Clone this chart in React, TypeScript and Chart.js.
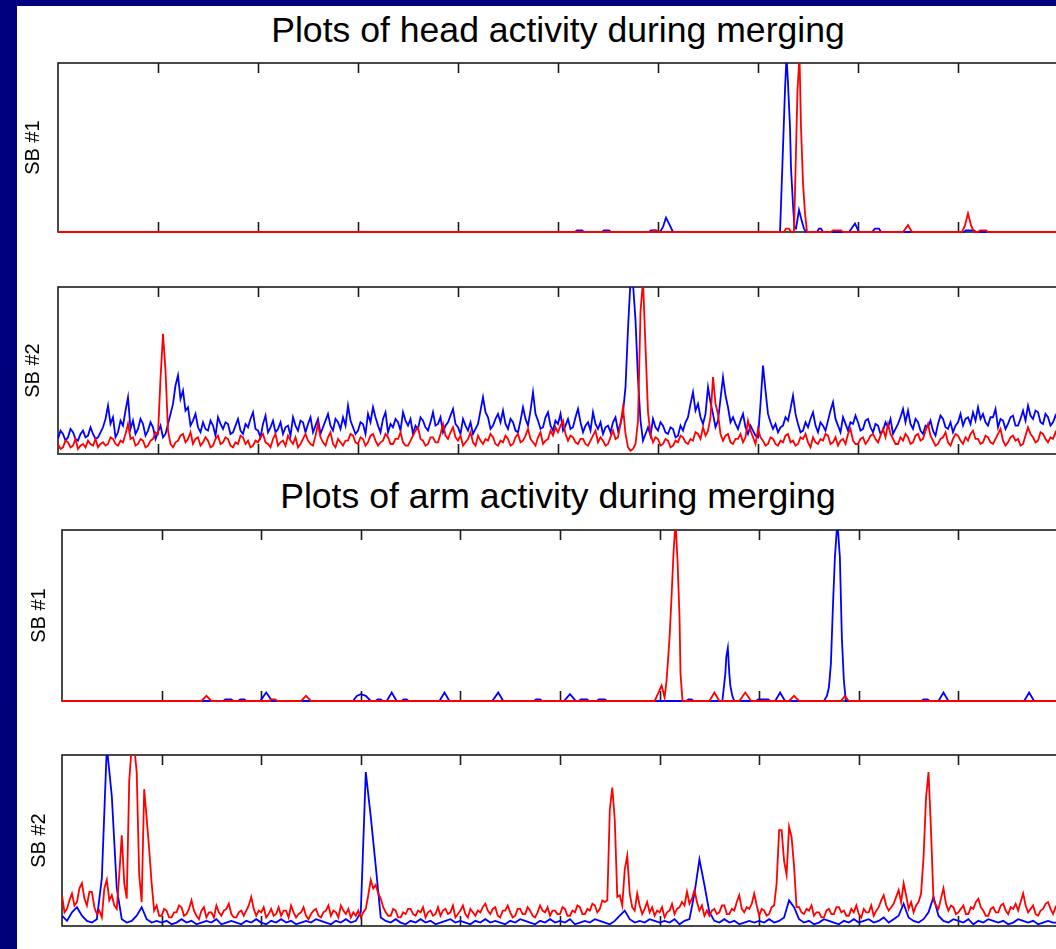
import React, { useEffect, useRef } from "react";
import { Chart, registerables } from "chart.js";

Chart.register(...registerables);

// ---------- data ----------
const titles = ["Plots of head activity during merging", "Plots of arm activity during merging"];
const yLabels = ["SB #1", "SB #2", "SB #1", "SB #2"];
const xTicks = [100, 200, 300, 400, 500, 600, 700, 800, 900];
const fineStep = 2.5;
const coarseStep = 5;

// Head, SB #1 (sparse events)
const headSB1BlueX = [0, 517, 519, 524, 526, 544, 546, 551, 553, 591, 593, 598, 600, 602, 605, 608, 611, 615, 722, 723, 725, 727, 728.5, 730, 732, 733, 735, 736.5, 738, 741, 744, 746, 748, 759, 761, 763, 765, 791, 797, 801, 814, 817, 821, 823, 906, 908, 916, 918, 1000];
const headSB1BlueY = [0, 0, 1, 1, 0, 0, 1, 1, 0, 0, 1, 1, 0, 0, 3, 8.5, 5, 0, 0, 16, 50, 84, 104, 88, 62, 38, 16, 2, 2, 13, 6, 2, 0, 0, 2, 2, 0, 0, 5, 0, 0, 2, 2, 0, 0, 1, 1, 0, 0];
const headSB1RedX = [0, 594, 596, 598, 600, 726, 728, 731, 733, 736, 738, 739.5, 741.5, 743, 745, 747, 749, 773, 775, 783, 785, 845, 850, 854, 904, 907, 910, 913, 916, 920, 922, 928, 930, 1000];
const headSB1RedY = [0, 0, 1, 1, 0, 0, 2, 2, 0, 0, 48, 84, 104, 62, 29, 11, 0, 0, 1, 1, 0, 0, 4, 0, 0, 4, 11, 4, 0, 0, 1, 1, 0, 0];

// Head, SB #2 (one sample every 2.5 units)
const headSB2Blue = [
  9, 14, 12, 8, 10, 15, 13, 9, 8, 12, 14, 10, 11, 16, 12, 9, 10, 13, 16, 21,
  29, 18, 22, 10, 13, 20, 17, 26, 34, 15, 20, 12, 15, 21, 18, 11, 14, 19, 16, 9,
  13, 17, 10, 12, 18, 24, 30, 41, 47, 33, 38, 26, 28, 17, 20, 24, 16, 13, 19, 15,
  14, 20, 17, 11, 22, 18, 15, 19, 18, 12, 13, 17, 21, 14, 12, 18, 16, 21, 25, 15,
  14, 10, 18, 23, 13, 16, 20, 13, 15, 19, 12, 16, 17, 11, 22, 17, 14, 20, 19, 13,
  18, 22, 13, 17, 21, 12, 16, 20, 24, 17, 14, 21, 19, 15, 22, 17, 29, 20, 16, 12,
  14, 19, 18, 12, 24, 19, 28, 22, 17, 13, 21, 25, 13, 18, 16, 21, 19, 14, 25, 20,
  17, 21, 12, 17, 15, 22, 20, 16, 14, 19, 25, 17, 18, 22, 13, 17, 19, 23, 27, 18,
  16, 12, 21, 17, 14, 19, 12, 15, 18, 26, 34, 25, 22, 15, 17, 21, 24, 19, 26, 18,
  15, 21, 19, 14, 13, 20, 28, 21, 17, 26, 37, 24, 20, 15, 16, 22, 25, 17, 14, 20,
  18, 24, 14, 17, 21, 15, 16, 22, 27, 19, 13, 17, 19, 14, 25, 18, 15, 19, 12, 16,
  17, 13, 19, 22, 14, 18, 25, 40, 75, 104, 102, 80, 45, 20, 8, 12, 16, 11, 21, 16,
  14, 19, 17, 13, 12, 16, 15, 10, 11, 17, 14, 19, 22, 30, 37, 26, 30, 22, 18, 24,
  40, 31, 24, 16, 20, 33, 46, 35, 28, 19, 22, 18, 15, 20, 24, 16, 12, 17, 14, 11,
  10, 30, 53, 38, 24, 19, 15, 18, 13, 16, 17, 22, 20, 27, 35, 24, 18, 13, 14, 19,
  16, 21, 25, 17, 13, 19, 17, 14, 20, 26, 31, 21, 17, 13, 22, 18, 14, 19, 18, 23,
  19, 14, 15, 20, 21, 16, 13, 18, 17, 12, 14, 19, 16, 21, 12, 15, 18, 22, 27, 19,
  26, 18, 15, 21, 19, 14, 12, 17, 16, 20, 14, 11, 18, 23, 21, 16, 15, 19, 13, 17,
  19, 24, 17, 21, 22, 18, 25, 20, 28, 21, 24, 19, 17, 22, 22, 27, 16, 21, 20, 15,
  18, 22, 23, 17, 17, 21, 26, 20, 29, 23, 21, 26, 25, 19, 18, 24, 22, 17, 19, 23, 20,
];
const headSB2Red = [
  6, 3, 4, 8, 7, 4, 5, 9, 3, 5, 6, 4, 8, 6, 5, 9, 4, 6, 7, 5,
  6, 10, 9, 6, 5, 8, 7, 12, 18, 9, 10, 5, 6, 9, 8, 4, 5, 8, 9, 13,
  12, 45, 72, 50, 14, 6, 4, 7, 8, 11, 12, 7, 9, 13, 6, 9, 10, 5, 7, 10,
  8, 4, 5, 9, 11, 6, 7, 10, 9, 5, 4, 7, 6, 11, 10, 6, 8, 4, 5, 8,
  7, 10, 12, 7, 6, 4, 9, 12, 5, 7, 8, 5, 11, 8, 6, 10, 4, 6, 9, 12,
  8, 6, 5, 11, 18, 10, 7, 5, 10, 13, 6, 4, 9, 7, 5, 8, 8, 12, 11, 7,
  6, 10, 9, 5, 7, 11, 12, 8, 5, 7, 8, 12, 10, 6, 6, 9, 9, 13, 7, 5,
  5, 8, 11, 14, 16, 9, 8, 5, 6, 10, 10, 7, 7, 12, 18, 11, 9, 13, 16, 10,
  8, 11, 5, 7, 9, 13, 7, 5, 11, 8, 6, 9, 8, 12, 10, 6, 5, 8, 7, 11,
  9, 5, 6, 10, 12, 7, 8, 11, 15, 9, 7, 5, 10, 13, 6, 8, 9, 14, 11, 16,
  13, 17, 20, 12, 8, 11, 10, 7, 6, 9, 9, 6, 5, 8, 11, 14, 7, 10, 8, 5,
  6, 10, 14, 9, 10, 18, 28, 12, 4, 2, 3, 6, 20, 85, 104, 64, 25, 12, 7, 10,
  9, 5, 6, 9, 8, 4, 5, 8, 7, 11, 10, 7, 6, 9, 8, 13, 12, 9, 16, 11,
  14, 22, 46, 30, 24, 12, 8, 11, 12, 7, 6, 9, 9, 12, 7, 10, 20, 14, 10, 6,
  15, 10, 8, 5, 6, 10, 9, 6, 5, 8, 7, 11, 12, 7, 8, 5, 6, 10, 9, 12,
  7, 4, 10, 7, 6, 9, 8, 12, 11, 6, 7, 10, 5, 8, 9, 6, 12, 15, 8, 6,
  6, 9, 10, 6, 8, 11, 12, 9, 7, 11, 15, 10, 18, 12, 9, 6, 6, 10, 8, 12,
  10, 6, 7, 11, 12, 8, 9, 14, 18, 11, 8, 5, 6, 9, 10, 13, 7, 5, 9, 12,
  11, 8, 6, 10, 8, 12, 14, 9, 9, 6, 7, 11, 10, 7, 6, 9, 12, 15, 8, 5,
  7, 10, 11, 8, 9, 5, 6, 11, 16, 12, 10, 7, 8, 13, 12, 9, 7, 10, 9, 13, 10,
];

// Arm, SB #1 (sparse events)
const armSB1BlueX = [0, 162, 164, 170, 172, 177, 179, 183, 185, 199, 205, 211, 292, 296, 300, 305, 310, 315, 317, 320, 322, 326, 331, 336, 341, 343, 346, 348, 379, 384, 389, 432, 438, 443, 474, 476, 480, 482, 504, 510, 516, 519, 521, 527, 529, 537, 539, 545, 547, 627, 629, 632, 634, 663, 666, 667, 668.5, 670, 671, 673, 675, 697, 699, 709, 711, 716, 721, 726, 765, 768, 770, 772, 774, 776, 778.5, 781, 783, 785, 787, 863, 865, 869, 871, 880, 885, 890, 966, 971, 976, 1000];
const armSB1BlueY = [0, 0, 1, 1, 0, 0, 1, 1, 0, 0, 5, 0, 0, 3, 4, 3, 0, 0, 1, 1, 0, 0, 5, 0, 0, 1, 1, 0, 0, 5, 0, 0, 5, 0, 0, 1, 1, 0, 0, 4, 0, 0, 1, 1, 0, 0, 1, 1, 0, 0, 1, 1, 0, 0, 16, 26, 31, 16, 9, 3, 0, 0, 1, 1, 0, 0, 5, 0, 0, 3, 8, 22, 55, 84, 105, 84, 37, 12, 0, 0, 1, 1, 0, 0, 5, 0, 0, 5, 0, 0];
const armSB1RedX = [0, 140, 145, 150, 208, 210, 214, 216, 240, 245, 250, 595, 599, 602, 605, 607, 610, 612, 614, 616, 618, 620, 621, 623, 650, 655, 660, 680, 686, 692, 730, 735, 740, 782, 786, 790, 1000];
const armSB1RedY = [0, 0, 3, 0, 0, 1, 1, 0, 0, 3, 0, 0, 5, 9, 2, 12, 37, 61, 87, 105, 82, 49, 16, 0, 0, 5, 0, 0, 5, 0, 0, 3, 0, 0, 3, 0, 0];

// Arm, SB #2 (blue: one sample every 5 units; red: every 2.5 units)
const armSB2Blue = [
  6, 3, 8, 11, 6, 3, 2, 4, 28, 105,
  76, 22, 4, 2, 3, 6, 11, 4, 2, 3,
  2, 3, 1, 2, 4, 2, 3, 1, 2, 3,
  2, 4, 1, 2, 3, 2, 1, 3, 2, 4,
  2, 1, 3, 2, 4, 2, 3, 1, 2, 3,
  2, 4, 3, 2, 1, 3, 2, 4, 2, 3,
  8, 90, 64, 35, 5, 3, 2, 4, 2, 1,
  3, 2, 4, 2, 3, 1, 2, 3, 4, 2,
  3, 2, 1, 3, 2, 4, 2, 3, 2, 1,
  3, 2, 4, 3, 2, 1, 3, 2, 4, 2,
  3, 2, 4, 1, 2, 3, 2, 4, 3, 2,
  1, 3, 6, 9, 4, 2, 3, 2, 4, 3,
  2, 3, 2, 4, 1, 3, 4, 19, 39, 24,
  8, 3, 2, 4, 2, 3, 1, 2, 3, 2,
  3, 2, 4, 2, 3, 5, 15, 11, 4, 2,
  3, 1, 2, 4, 3, 2, 1, 3, 2, 4,
  2, 3, 4, 2, 3, 5, 2, 4, 6, 13,
  5, 3, 2, 4, 8, 17, 6, 3, 2, 4,
  3, 2, 4, 1, 3, 2, 4, 3, 2, 3,
  1, 2, 4, 3, 2, 3, 1, 2, 3, 2, 2,
];
const armSB2Red = [
  18, 8, 10, 15, 19, 12, 14, 22, 25, 16, 12, 20, 20, 11, 7, 9, 5, 22, 27, 15,
  18, 12, 10, 30, 53, 25, 16, 85, 105, 105, 90, 30, 14, 80, 63, 45, 25, 9, 12, 6,
  6, 10, 9, 5, 5, 8, 8, 12, 11, 6, 7, 10, 15, 9, 6, 4, 9, 11, 5, 8,
  8, 5, 12, 8, 6, 9, 10, 13, 7, 5, 5, 8, 9, 6, 9, 12, 17, 10, 6, 9,
  8, 11, 5, 7, 10, 6, 7, 11, 6, 9, 9, 5, 12, 8, 5, 7, 8, 11, 6, 4,
  7, 9, 10, 6, 5, 8, 9, 12, 6, 9, 8, 5, 12, 9, 7, 10, 5, 8, 6, 9,
  5, 8, 10, 18, 27, 22, 24, 19, 16, 11, 8, 6, 6, 10, 9, 5, 5, 8, 7, 10,
  10, 7, 6, 9, 8, 11, 5, 8, 9, 6, 7, 11, 6, 9, 10, 7, 8, 12, 5, 7,
  9, 12, 7, 5, 10, 8, 6, 9, 8, 11, 13, 9, 7, 10, 11, 6, 5, 9, 9, 12,
  8, 5, 6, 10, 10, 7, 7, 11, 9, 6, 5, 8, 12, 9, 8, 11, 6, 9, 9, 7,
  7, 11, 10, 6, 6, 9, 8, 12, 11, 7, 7, 10, 9, 13, 12, 8, 10, 15, 14, 15,
  68, 81, 62, 17, 18, 12, 33, 41, 19, 11, 9, 19, 12, 7, 10, 14, 8, 11, 6, 9,
  8, 11, 5, 8, 9, 13, 7, 10, 11, 14, 12, 20, 13, 16, 21, 14, 9, 12, 6, 9,
  6, 9, 10, 7, 8, 12, 12, 7, 7, 10, 9, 14, 18, 10, 8, 11, 10, 13, 19, 12,
  6, 10, 9, 6, 7, 11, 12, 25, 56, 56, 38, 30, 58, 52, 35, 11, 11, 8, 7, 10,
  9, 12, 6, 8, 8, 5, 5, 9, 10, 7, 7, 11, 11, 8, 9, 6, 6, 10, 8, 12,
  7, 5, 10, 8, 8, 12, 6, 9, 11, 15, 18, 12, 9, 11, 13, 17, 21, 14, 25, 18,
  10, 14, 8, 12, 14, 19, 40, 75, 90, 56, 15, 12, 10, 16, 22, 13, 9, 12, 11, 7,
  8, 10, 12, 7, 7, 11, 10, 14, 16, 11, 9, 6, 6, 10, 11, 8, 8, 12, 13, 9,
  7, 11, 10, 13, 9, 14, 19, 12, 8, 10, 12, 7, 6, 9, 10, 13, 14, 10, 7, 11, 9,
];

// ---------- helpers ----------
const FONT = '"Liberation Sans", Arial, Helvetica, sans-serif';
const BLUE = "#0000ff";
const RED = "#ff0000";
const CANVAS_W = 1070;
const AXIS_RIGHT = 1058;
const PAD = 6;

const fromXY = (xs: number[], ys: number[]) => xs.map((x, i) => ({ x, y: ys[i] }));
const fromSeries = (ys: number[], step: number) => ys.map((y, i) => ({ x: i * step, y }));

const line = (data: { x: number; y: number }[], color: string) => ({
  data,
  borderColor: color,
  backgroundColor: color,
  borderWidth: 1.8,
  pointRadius: 0,
  fill: false,
  tension: 0,
  borderJoinStyle: "miter",
  clip: { left: 0, top: 0, right: 0, bottom: 2 } as any,
});

const boxPlugin = {
  id: "matlabBox",
  beforeDatasetsDraw(chart: any) {
    const { ctx, chartArea: a, scales } = chart;
    ctx.save();
    ctx.strokeStyle = "#1c1c1c";
    ctx.lineWidth = 1.6;
    ctx.strokeRect(a.left, a.top, a.right - a.left, a.bottom - a.top);
    ctx.beginPath();
    for (const v of xTicks) {
      const px = Math.round(scales.x.getPixelForValue(v)) + 0.5;
      ctx.moveTo(px, a.top);
      ctx.lineTo(px, a.top + 10);
      ctx.moveTo(px, a.bottom);
      ctx.lineTo(px, a.bottom - 10);
    }
    ctx.stroke();
    ctx.restore();
  },
};

type PanelProps = {
  top: number;
  height: number;
  axisLeft: number;
  labelCenter: number;
  label: string;
  datasets: any[];
};

function Panel({ top, height, axisLeft, labelCenter, label, datasets }: PanelProps) {
  const ref = useRef<HTMLCanvasElement>(null);
  useEffect(() => {
    if (!ref.current) return;
    const titleSize = 20;
    const lineH = titleSize * 1.2;
    const padLeft = labelCenter - lineH / 2;
    const chart = new Chart(ref.current, {
      type: "line",
      data: { datasets },
      options: {
        animation: false,
        responsive: false,
        maintainAspectRatio: false,
        events: [],
        layout: { padding: { left: padLeft, right: CANVAS_W - AXIS_RIGHT, top: PAD, bottom: PAD } },
        plugins: { legend: { display: false }, tooltip: { enabled: false }, title: { display: false } },
        scales: {
          x: {
            type: "linear",
            min: 0,
            max: 1000,
            ticks: { display: false, stepSize: 100 },
            grid: { display: false, drawTicks: false },
            border: { display: false },
            afterFit: (s: any) => {
              s.height = 0;
            },
          },
          y: {
            type: "linear",
            min: 0,
            max: 100,
            ticks: { display: false },
            grid: { display: false, drawTicks: false },
            border: { display: false },
            title: {
              display: true,
              text: label,
              color: "#000",
              font: { family: FONT, size: titleSize, lineHeight: 1.2 },
              padding: { top: 0, bottom: 0 },
            },
            afterFit: (s: any) => {
              s.width = axisLeft - padLeft;
            },
          },
        },
      } as any,
      plugins: [boxPlugin],
    });
    return () => chart.destroy();
  }, []);
  const h = height + 2 * PAD;
  return (
    <canvas
      ref={ref}
      width={CANVAS_W}
      height={h}
      style={{ position: "absolute", left: 0, top: top - PAD, width: CANVAS_W, height: h }}
    />
  );
}

const titleStyle = (top: number): React.CSSProperties => ({
  position: "absolute",
  left: 58,
  width: 1000,
  top,
  textAlign: "center",
  fontFamily: FONT,
  fontSize: 35.6,
  lineHeight: "36px",
  color: "#000",
  whiteSpace: "nowrap",
});

export default function App() {
  return (
    <div
      style={{
        position: "fixed",
        left: 0,
        top: 0,
        width: 1056,
        height: 949,
        overflow: "hidden",
        background: "linear-gradient(180deg, #00007e 0%, #000078 100%)",
      }}
    >
      <div style={{ position: "absolute", left: 17, top: 6, right: 0, bottom: 0, background: "#fff" }} />
      <div style={titleStyle(12)}>{titles[0]}</div>
      <div style={titleStyle(478)}>{titles[1]}</div>
      <Panel
        top={63}
        height={169}
        axisLeft={58}
        labelCenter={33}
        label={yLabels[0]}
        datasets={[line(fromXY(headSB1RedX, headSB1RedY), RED), line(fromXY(headSB1BlueX, headSB1BlueY), BLUE)]}
      />
      <Panel
        top={287}
        height={167}
        axisLeft={58}
        labelCenter={33}
        label={yLabels[1]}
        datasets={[line(fromSeries(headSB2Red, fineStep), RED), line(fromSeries(headSB2Blue, fineStep), BLUE)]}
      />
      <Panel
        top={530}
        height={171}
        axisLeft={62}
        labelCenter={39}
        label={yLabels[2]}
        datasets={[line(fromXY(armSB1RedX, armSB1RedY), RED), line(fromXY(armSB1BlueX, armSB1BlueY), BLUE)]}
      />
      <Panel
        top={755}
        height={171}
        axisLeft={62}
        labelCenter={39}
        label={yLabels[3]}
        datasets={[line(fromSeries(armSB2Red, fineStep), RED), line(fromSeries(armSB2Blue, coarseStep), BLUE)]}
      />
    </div>
  );
}
